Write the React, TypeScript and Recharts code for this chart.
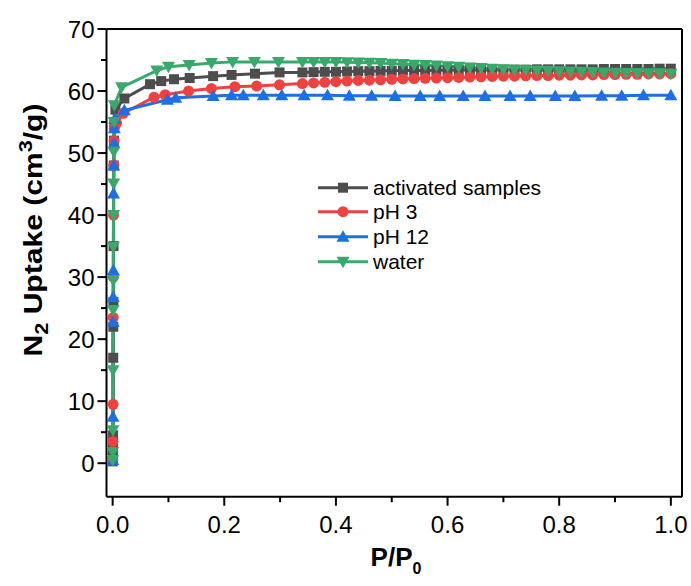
import { Line, LineChart, ReferenceLine, XAxis, YAxis } from "recharts";

const FONT = '"Liberation Sans", Arial, Helvetica, sans-serif';

// axis ticks (majors carry labels, minors are just short marks)
const xTicks = [0, 0.1, 0.2, 0.3, 0.4, 0.5, 0.6, 0.7, 0.8, 0.9, 1.0];
const yTicks = [0, 5, 10, 15, 20, 25, 30, 35, 40, 45, 50, 55, 60, 65, 70];

// dense high-pressure points shared by three of the samples
const plateauX = [
  0.34, 0.36, 0.38, 0.4, 0.42, 0.44, 0.46, 0.48, 0.5, 0.52, 0.54, 0.56, 0.58, 0.6, 0.62, 0.64, 0.66,
  0.68, 0.7, 0.72, 0.74, 0.76, 0.78, 0.8, 0.82, 0.84, 0.86, 0.88, 0.9, 0.92, 0.94, 0.96, 0.98, 1.0,
];

const activatedLowX = [
  0.0002, 0.0004, 0.0006, 0.0008, 0.001, 0.0012, 0.0014, 0.0016, 0.002, 0.0025, 0.003, 0.005, 0.021,
  0.067, 0.087, 0.11, 0.138, 0.18, 0.213, 0.255, 0.299,
];
const activatedLowY = [0.3, 1.5, 3.0, 4.5, 17, 22, 26, 35, 48, 52, 55, 57, 58.8, 61.1, 61.6, 61.9, 62.1, 62.4, 62.6, 62.8, 63.0];
const activatedPlateauY = [
  63.0, 63.05, 63.1, 63.1, 63.15, 63.2, 63.2, 63.25, 63.25, 63.3, 63.3, 63.3, 63.35, 63.35, 63.4, 63.4, 63.4,
  63.4, 63.45, 63.45, 63.45, 63.5, 63.5, 63.5, 63.5, 63.5, 63.5, 63.55, 63.55, 63.55, 63.55, 63.55, 63.6, 63.6,
];

const ph3LowX = [0.0002, 0.0005, 0.0008, 0.001, 0.0013, 0.0016, 0.002, 0.0025, 0.003, 0.007, 0.019, 0.074, 0.094, 0.136, 0.177, 0.219, 0.258, 0.299];
const ph3LowY = [0.5, 3.5, 9.5, 23.5, 30, 40, 48, 52, 54, 54.8, 56.4, 59.0, 59.4, 60.0, 60.4, 60.7, 60.8, 61.0];
const ph3PlateauY = [
  61.2, 61.3, 61.4, 61.5, 61.6, 61.7, 61.75, 61.8, 61.9, 61.95, 62.0, 62.05, 62.1, 62.15, 62.2, 62.25, 62.3,
  62.35, 62.4, 62.4, 62.45, 62.5, 62.5, 62.55, 62.55, 62.6, 62.6, 62.65, 62.65, 62.7, 62.7, 62.75, 62.75, 62.8,
];

const ph12X = [
  0.0002, 0.0005, 0.0008, 0.001, 0.0013, 0.0016, 0.002, 0.0025, 0.003, 0.004, 0.021, 0.098, 0.113, 0.18,
  0.213, 0.234, 0.27, 0.303, 0.343, 0.385, 0.424, 0.464, 0.506, 0.551, 0.586, 0.628, 0.667, 0.712, 0.748,
  0.793, 0.828, 0.876, 0.912, 0.951, 1.0,
];
const ph12Y = [
  0.5, 7.5, 22.8, 26.8, 31.1, 43.5, 48, 51.6, 54, 55.5, 56.9, 58.6, 58.9, 59.2, 59.3, 59.3, 59.3, 59.3,
  59.3, 59.3, 59.25, 59.25, 59.2, 59.2, 59.2, 59.2, 59.2, 59.2, 59.2, 59.2, 59.2, 59.25, 59.25, 59.3, 59.3,
];

const waterLowX = [
  0.0001, 0.0003, 0.0005, 0.0007, 0.0009, 0.0011, 0.0013, 0.0015, 0.0017, 0.002, 0.0025, 0.003, 0.016,
  0.079, 0.1, 0.137, 0.177, 0.215, 0.254, 0.297,
];
const waterLowY = [0.5, 1.8, 5.3, 15, 24.7, 29.5, 34.9, 40, 45.1, 50.2, 55, 57.7, 60.6, 63.3, 63.9, 64.2, 64.5, 64.7, 64.7, 64.7];
const waterPlateauY = [
  64.7, 64.7, 64.7, 64.7, 64.65, 64.6, 64.55, 64.5, 64.4, 64.35, 64.25, 64.2, 64.1, 64.0, 63.9, 63.8, 63.7,
  63.6, 63.5, 63.45, 63.4, 63.3, 63.25, 63.2, 63.15, 63.1, 63.05, 63.0, 62.95, 62.9, 62.9, 62.85, 62.85, 62.8,
];

type Pt = { x: number; y: number };
const toPoints = (xs: number[], ys: number[]): Pt[] => xs.map((x, i) => ({ x, y: ys[i] }));

const series = [
  {
    name: "activated samples",
    color: "#4d4d4d",
    shape: "square",
    data: [...toPoints(activatedLowX, activatedLowY), ...toPoints(plateauX, activatedPlateauY)],
  },
  { name: "pH 3", color: "#f04141", shape: "circle", data: [...toPoints(ph3LowX, ph3LowY), ...toPoints(plateauX, ph3PlateauY)] },
  { name: "pH 12", color: "#1d6fe3", shape: "up", data: toPoints(ph12X, ph12Y) },
  { name: "water", color: "#38a96a", shape: "down", data: [...toPoints(waterLowX, waterLowY), ...toPoints(plateauX, waterPlateauY)] },
];

function Marker({ cx, cy, shape, color }: { cx: number; cy: number; shape: string; color: string }) {
  if (cx == null || cy == null) return null;
  if (shape === "square") return <rect x={cx - 5} y={cy - 5} width={10} height={10} fill={color} />;
  if (shape === "circle") return <circle cx={cx} cy={cy} r={5.5} fill={color} />;
  if (shape === "up") return <polygon points={`${cx},${cy - 6.5} ${cx + 6.5},${cy + 5} ${cx - 6.5},${cy + 5}`} fill={color} />;
  return <polygon points={`${cx - 6.5},${cy - 5} ${cx + 6.5},${cy - 5} ${cx},${cy + 6.5}`} fill={color} />;
}

function XTick(props: any) {
  const { x, y, payload } = props;
  const major = Math.round(payload.value * 10) % 2 === 0;
  return (
    <g>
      <line x1={x} x2={x} y1={y} y2={y + (major ? 9 : 5.5)} stroke="#000" strokeWidth={2} />
      {major && (
        <text x={x} y={y + 36} textAnchor="middle" fontSize={24} fontFamily={FONT} fill="#000">
          {payload.value.toFixed(1)}
        </text>
      )}
    </g>
  );
}

function YTick(props: any) {
  const { x, y, payload } = props;
  const major = payload.value % 10 === 0;
  return (
    <g>
      <line x1={x} x2={x - (major ? 9 : 5.5)} y1={y} y2={y} stroke="#000" strokeWidth={2} />
      {major && (
        <text x={x - 12} y={y + 8.5} textAnchor="end" fontSize={24} fontFamily={FONT} fill="#000">
          {payload.value}
        </text>
      )}
    </g>
  );
}

export default function App() {
  return (
    <div style={{ position: "absolute", left: 0, top: 0, width: 691, height: 586, background: "#fff" }}>
      <LineChart width={691} height={586} margin={{ top: 29, right: 9, bottom: 29.3, left: 36.5 }}>
        <XAxis
          type="number"
          dataKey="x"
          domain={[-0.011, 1.02]}
          allowDataOverflow
          ticks={xTicks}
          interval={0}
          height={60}
          tickSize={0}
          tickMargin={0}
          tickLine={false}
          axisLine={{ stroke: "#000", strokeWidth: 2 }}
          tick={<XTick />}
        />
        <YAxis
          type="number"
          dataKey="y"
          domain={[-5.4, 70]}
          allowDataOverflow
          ticks={yTicks}
          interval={0}
          width={70}
          tickSize={0}
          tickMargin={0}
          tickLine={false}
          axisLine={{ stroke: "#000", strokeWidth: 2 }}
          tick={<YTick />}
        />
        <ReferenceLine y={70} stroke="#000" strokeWidth={2} />
        <ReferenceLine x={1.02} stroke="#000" strokeWidth={2} />
        {series.map((s) => (
          <Line
            key={s.name}
            name={s.name}
            data={s.data}
            dataKey="y"
            type="linear"
            stroke={s.color}
            strokeWidth={3}
            isAnimationActive={false}
            dot={(p: any) => <Marker key={`${s.name}-${p.index}`} cx={p.cx} cy={p.cy} shape={s.shape} color={s.color} />}
            activeDot={false}
          />
        ))}
      </LineChart>

      <svg width={691} height={586} style={{ position: "absolute", left: 0, top: 0, pointerEvents: "none" }}>
        {/* legend */}
        {series.map((s, i) => {
          const cy = [187.7, 211.7, 236.7, 261.7][i];
          return (
            <g key={s.name}>
              <line x1={318} x2={368} y1={cy} y2={cy} stroke={s.color} strokeWidth={3} />
              <Marker cx={343} cy={cy} shape={s.shape} color={s.color} />
              <text x={373} y={cy + 7.5} fontSize={21} fontFamily={FONT} fill="#000">
                {s.name}
              </text>
            </g>
          );
        })}
        {/* axis titles */}
        <text
          x={42}
          y={230}
          transform="rotate(-90 42 230)"
          textAnchor="middle"
          fontSize={25}
          fontWeight="bold"
          fontFamily={FONT}
          fill="#000"
          textLength={253}
          lengthAdjust="spacingAndGlyphs"
        >
          N<tspan fontSize={18} dy={6}>2</tspan>
          <tspan dy={-6}> Uptake (cm</tspan>
          <tspan fontSize={18} dy={-10}>3</tspan>
          <tspan dy={10}>/g)</tspan>
        </text>
        <text x={396} y={566} textAnchor="middle" fontSize={26} fontWeight="bold" fontFamily={FONT} fill="#000">
          P/P<tspan fontSize={16} dy={8}>0</tspan>
        </text>
      </svg>
    </div>
  );
}
